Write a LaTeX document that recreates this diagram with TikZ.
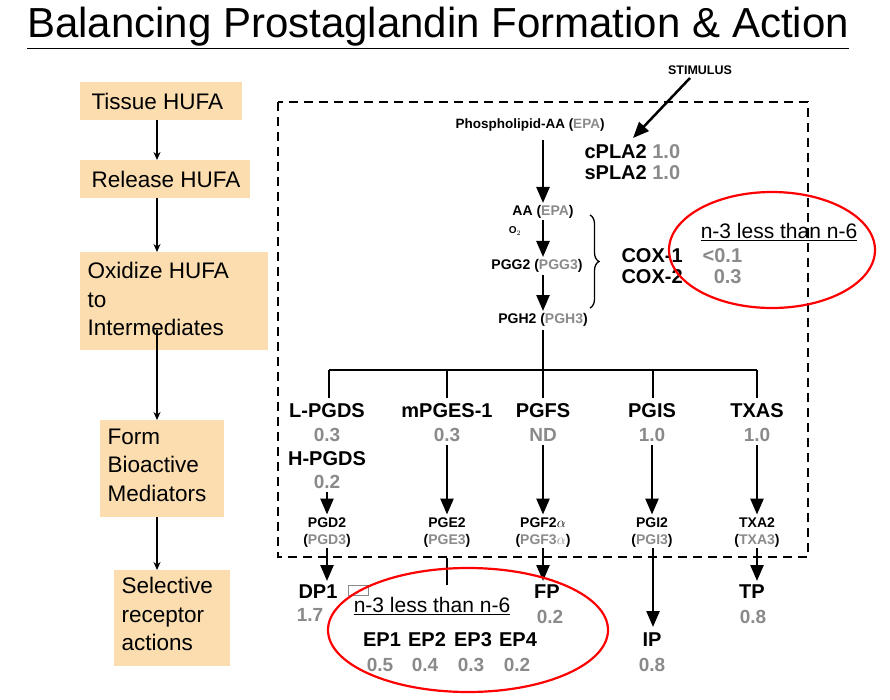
\documentclass[tikz,border=0pt]{standalone}
\usepackage{fontspec}
\setmainfont{Liberation Sans}
\usetikzlibrary{decorations.pathreplacing,arrows.meta}
\definecolor{tan}{HTML}{FBDDB0}
\definecolor{gr}{HTML}{8A8A8A}
\begin{document}
\begin{tikzpicture}[x=1pt,y=-1pt,
 box/.style={fill=tan,inner sep=0,anchor=north west},
 btxt/.style={anchor=north west,align=left,font=\fontsize{22.5}{28.5}\selectfont},
 ar/.style={-{Triangle[length=16pt,width=13pt]},line width=2.5pt},
 sar/.style={-{Stealth[length=8pt,width=7pt]},line width=1.3pt},
 big/.style={font=\fontsize{20}{22}\selectfont\bfseries},
 val/.style={font=\fontsize{19}{22}\selectfont\bfseries,text=gr},
 sm/.style={font=\fontsize{14}{16}\selectfont\bfseries},
 note/.style={font=\fontsize{21}{24}\selectfont},
 ell/.style={draw=red,line width=2.2pt}]
\useasboundingbox (0,0) rectangle (890,700);
\node (title) at (438,28) {\fontsize{42}{46}\selectfont\underline{Balancing Prostaglandin Formation \& Action}};
% left boxes
\node[box,minimum width=162,minimum height=38] (b1) at (80,82) {};
\node[btxt,anchor=west] (t1) at (88,101) {Tissue HUFA};
\node[box,minimum width=170,minimum height=38] (b2) at (80,160) {};
\node[btxt,anchor=west] (t2) at (88,179) {Release HUFA};
\node[box,minimum width=188,minimum height=98] (b3) at (80,252) {};
\node[btxt] (t3) at (84,259) {Oxidize HUFA\\to\\Intermediates};
\node[box,minimum width=124,minimum height=97] (b4) at (100,420) {};
\node[btxt] (t4) at (104,425) {Form\\Bioactive\\Mediators};
\node[box,minimum width=116,minimum height=96] (b5) at (114,570) {};
\node[btxt] (t5) at (118,574) {Selective\\receptor\\actions};
\draw[sar] (157,120) -- (157,160);
\draw[sar] (157,198) -- (157,252);
\draw[sar] (157,330) -- (157,420);
\draw[sar] (157,517) -- (157,570);
% dashed box
\draw[line width=2.5pt,dash pattern=on 9pt off 6pt] (278,102) rectangle (808,557);
\node[font=\fontsize{12.5}{14}\selectfont\bfseries] (stim) at (700,70) {STIMULUS};
\node[font=\fontsize{13.5}{15}\selectfont\bfseries] (pl) at (530,125) {Phospholipid-AA (\textcolor{gr}{EPA})};
\coordinate (s1) at (690,78); \coordinate (s2) at (633,138);
\draw[ar] (s1) -- (s2);
\node[big,anchor=west] (cp) at (581,152) {cPLA2 \textcolor{gr}{1.0}};
\node[big,anchor=west] (sp) at (581,173) {sPLA2 \textcolor{gr}{1.0}};
\node[sm] (aa) at (543,212) {AA (\textcolor{gr}{EPA})};
\node[font=\fontsize{10}{11}\selectfont\bfseries] (o2) at (515,231) {O$_2$};
\node[sm] (pgg) at (537,266) {PGG2 (\textcolor{gr}{PGG3})};
\node[sm] (pgh) at (543,320) {PGH2 (\textcolor{gr}{PGH3})};
\coordinate (a0) at (543,140); \coordinate (a1) at (543,203);
\coordinate (a2) at (543,220); \coordinate (a3) at (543,257);
\coordinate (a4) at (543,275); \coordinate (a5) at (543,311);
\draw[ar] (a0) -- (a1);
\draw[ar] (a2) -- (a3);
\draw[ar] (a4) -- (a5);
\draw[decorate,decoration={brace,amplitude=9pt},line width=1.3pt] (590,215) -- (590,308);
\node[big,anchor=west] (c1) at (618,256) {COX-1 \textcolor{gr}{\ \;\,<0.1}};
\node[big,anchor=west] (c2) at (618,277) {COX-2 \textcolor{gr}{\ \;\;\;\,0.3}};
% branches
\coordinate (j) at (543,370);
\draw[line width=2.5pt] (pgh) -- (j);
\draw[line width=2.5pt] (329,370) -- (757,370);
\foreach \x in {329,447,543,653,757} \draw[line width=2.5pt] (\x,370) -- (\x,398);
\node[big] (lp) at (327,411) {L-PGDS};
\node[big] (mp) at (447,411) {mPGES-1};
\node[big] (pf) at (543,411) {PGFS};
\node[big] (pi) at (652,411) {PGIS};
\node[big] (tx) at (757,411) {TXAS};
\node[val] (v1) at (327,435) {0.3};
\node[val] (v2) at (447,435) {0.3};
\node[val] (v3) at (543,435) {ND};
\node[val] (v4) at (652,435) {1.0};
\node[val] (v5) at (757,435) {1.0};
\node[big] (hp) at (327,459) {H-PGDS};
\node[val] (v6) at (327,482) {0.2};
\node[sm] (d2) at (327,523) {PGD2};
\node[sm] (e2) at (447,523) {PGE2};
\node[sm] (f2) at (543,523) {PGF2$\alpha$};
\node[sm] (i2) at (652,523) {PGI2};
\node[sm] (t2a) at (757,523) {TXA2};
\node[sm] (d3) at (327,541) {(\textcolor{gr}{PGD3})};
\node[sm] (e3) at (447,541) {(\textcolor{gr}{PGE3})};
\node[sm] (f3) at (543,541) {(\textcolor{gr}{PGF3$\alpha$})};
\node[sm] (i3) at (652,541) {(\textcolor{gr}{PGI3})};
\node[sm] (t3) at (757,541) {(\textcolor{gr}{TXA3})};
\draw[ar] (v6) -- (d2);
\draw[ar] (v2) -- (e2);
\draw[ar] (v3) -- (f2);
\draw[ar] (v4) -- (i2);
\draw[ar] (v5) -- (t2a);
% receptors
\node[big] (dp) at (318,592) {DP1};
\node[draw=gr,line width=0.8pt,minimum width=20,minimum height=10,inner sep=0] (glyph) at (358,590) {};
\node[val] (dpv) at (310,615) {1.7};
\node[big] (fp) at (547,592) {FP};
\node[val] (fpv) at (550,617) {0.2};
\node[big] (tp) at (752,592) {TP};
\node[val] (tpv) at (753,617) {0.8};
\node[big] (ip) at (652,640) {IP};
\node[val] (ipv) at (652,665) {0.8};
\node[big] (ep1) at (382,640) {EP1};
\node[big] (ep2) at (427,640) {EP2};
\node[big] (ep3) at (473,640) {EP3};
\node[big] (ep4) at (518,640) {EP4};
\node[val] (ev1) at (380,665) {0.5};
\node[val] (ev2) at (425,665) {0.4};
\node[val] (ev3) at (471,665) {0.3};
\node[val] (ev4) at (517,665) {0.2};
\coordinate (d4) at (327,548); \coordinate (d5) at (327,581);
\draw[ar] (d4) -- (d5);
\coordinate (e4) at (447,585); \coordinate (e5) at (447,558);
\draw[line width=2.5pt] (e5) -- (e4);
\coordinate (f4) at (543,548); \coordinate (f5) at (543,581);
\draw[ar] (f4) -- (f5);
\coordinate (i4) at (653,548); \coordinate (i5) at (653,627);
\draw[ar] (i4) -- (i5);
\coordinate (t4a) at (757,548); \coordinate (t5a) at (757,581);
\draw[ar] (t4a) -- (t5a);
% ellipses
\draw[ell] (772,250) ellipse [x radius=103,y radius=58];
\node[note] (n1) at (779,232) {\underline{n-3 less than n-6}};
\draw[ell] (468,630) ellipse [x radius=140,y radius=62];
\node[note] (n2) at (432,606) {\underline{n-3 less than n-6}};
\end{tikzpicture}
\end{document}
